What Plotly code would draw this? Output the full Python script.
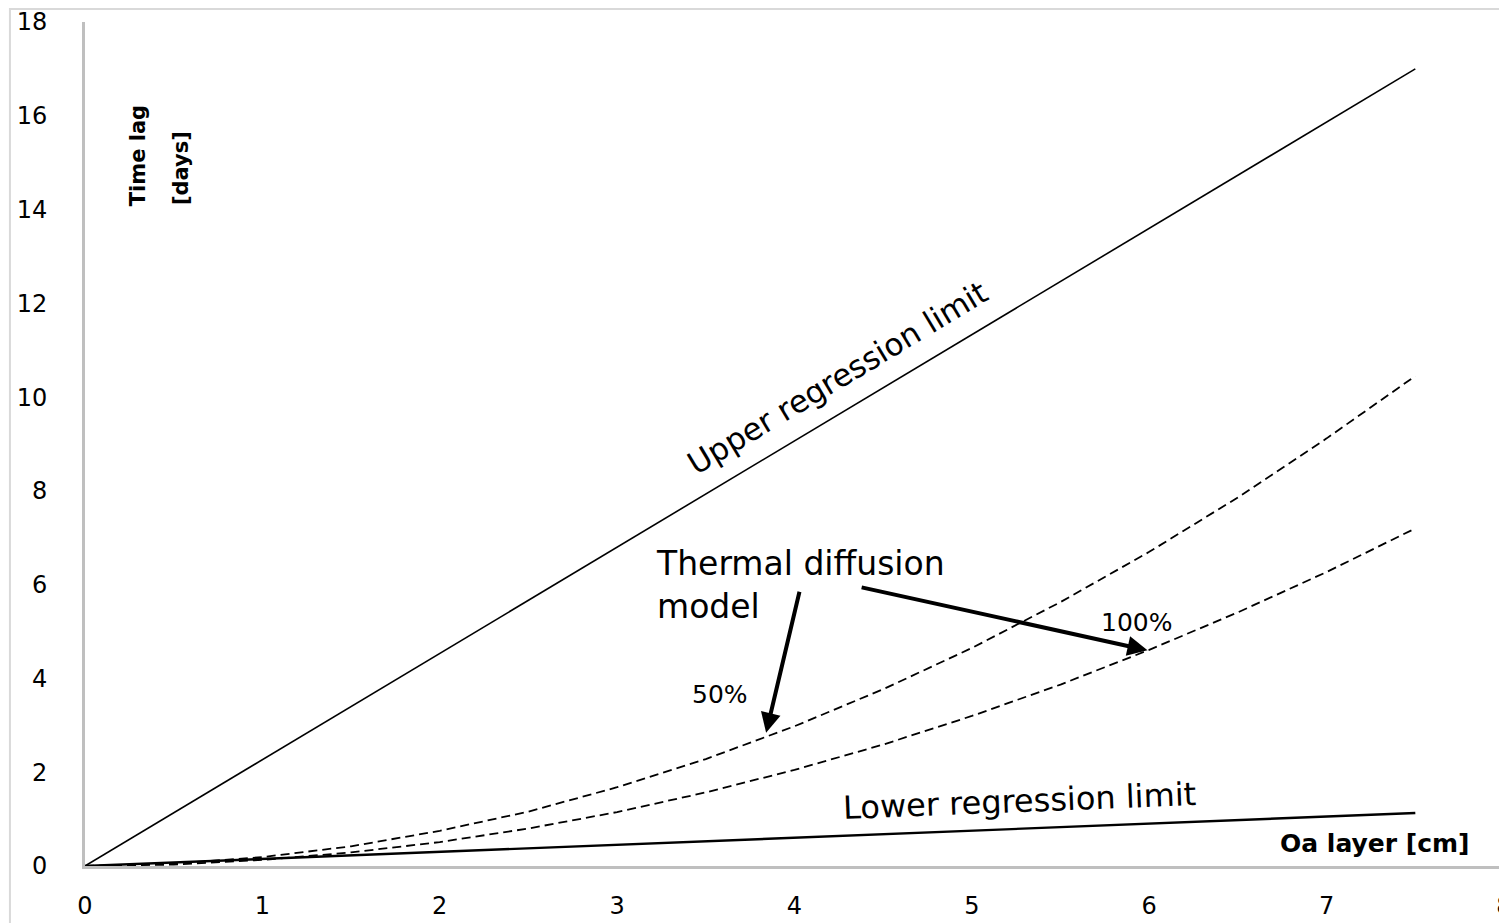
import plotly.graph_objects as go

# Data
x_lin = [0, 7.5]
upper_limit = [0, 17.0]
lower_limit = [0, 1.13]

x_model = [0, 0.5, 1, 1.5, 2, 2.5, 3, 3.5, 4, 4.5, 5, 5.5, 6, 6.5, 7, 7.5]
model_50 = [0, 0.05, 0.19, 0.42, 0.75, 1.16, 1.68, 2.28, 2.98, 3.77, 4.65, 5.63, 6.70, 7.86, 9.12, 10.45]
model_100 = [0, 0.03, 0.13, 0.29, 0.51, 0.80, 1.15, 1.57, 2.05, 2.59, 3.20, 3.87, 4.61, 5.41, 6.27, 7.20]

x_ticks = [0, 1, 2, 3, 4, 5, 6, 7, 8]
y_ticks = [0, 2, 4, 6, 8, 10, 12, 14, 16, 18]

FONT = "DejaVu Sans"

fig = go.Figure()
fig.add_trace(go.Scatter(x=x_lin, y=upper_limit, mode="lines",
                         line=dict(color="black", width=1.6), showlegend=False))
fig.add_trace(go.Scatter(x=x_lin, y=lower_limit, mode="lines",
                         line=dict(color="black", width=2.4), showlegend=False))
fig.add_trace(go.Scatter(x=x_model, y=model_50, mode="lines",
                         line=dict(color="black", width=1.8, dash="9px,5px"), showlegend=False))
fig.add_trace(go.Scatter(x=x_model, y=model_100, mode="lines",
                         line=dict(color="black", width=1.8, dash="9px,5px"), showlegend=False))

annotations = [
    dict(x=4.24, y=10.4, text="Upper regression limit", showarrow=False, textangle=-31,
         font=dict(family=FONT, size=31, color="black")),
    dict(x=5.27, y=1.38, text="Lower regression limit", showarrow=False, textangle=-2.3,
         font=dict(family=FONT, size=32, color="black")),
    dict(x=3.21, y=6.0, text="Thermal diffusion<br>model", showarrow=False, align="left",
         xanchor="left", yanchor="middle",
         font=dict(family=FONT, size=33, color="black")),
    dict(x=3.58, y=3.65, text="50%", showarrow=False,
         font=dict(family=FONT, size=25, color="black")),
    dict(x=5.93, y=5.2, text="100%", showarrow=False,
         font=dict(family=FONT, size=25, color="black")),
    dict(x=3.84, y=2.84, ax=4.03, ay=5.88, xref="x", yref="y", axref="x", ayref="y",
         text="", showarrow=True, arrowhead=2, arrowsize=1, arrowwidth=4, arrowcolor="black"),
    dict(x=5.99, y=4.6, ax=4.37, ay=5.95, xref="x", yref="y", axref="x", ayref="y",
         text="", showarrow=True, arrowhead=2, arrowsize=1, arrowwidth=4, arrowcolor="black"),
    dict(x=0.0374, y=0.841, xref="paper", yref="paper", text="<b>Time lag</b>",
         showarrow=False, textangle=-90, xanchor="center", yanchor="middle",
         font=dict(family=FONT, size=21, color="black")),
    dict(x=0.0677, y=0.827, xref="paper", yref="paper", text="<b>[days]</b>",
         showarrow=False, textangle=-90, xanchor="center", yanchor="middle",
         font=dict(family=FONT, size=21, color="black")),
    dict(x=7.82, y=0.49, text="<b>Oa layer [cm]</b>", showarrow=False, xanchor="right",
         font=dict(family=FONT, size=25, color="black")),
]

fig.update_layout(
    width=1507, height=915,
    margin=dict(l=77, r=11, t=14, b=57),
    paper_bgcolor="white", plot_bgcolor="white",
    annotations=annotations,
    font=dict(family=FONT, size=24, color="black"),
    shapes=[dict(type="rect", xref="paper", yref="paper",
                 x0=-0.0529, x1=1.2, y0=-0.2, y1=1.0154,
                 line=dict(color="#d9d9d9", width=2), layer="below")],
)
fig.update_xaxes(range=[0, 8], tickvals=x_ticks, showgrid=False, zeroline=False,
                 showline=True, linecolor="#bfbfbf", linewidth=3, ticks="",
                 automargin=False, ticklabelstandoff=16,
                 tickfont=dict(size=24, family=FONT, color="black"))
fig.update_yaxes(range=[0, 18], tickvals=y_ticks, showgrid=False, zeroline=False,
                 showline=True, linecolor="#bfbfbf", linewidth=3, ticks="",
                 automargin=False, ticklabelstandoff=30,
                 tickfont=dict(size=24, family=FONT, color="black"))

fig.write_html("out.html")
